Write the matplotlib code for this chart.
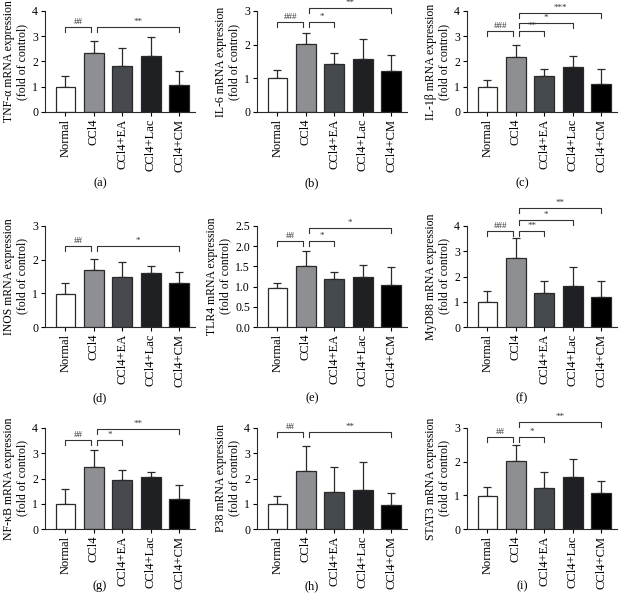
import matplotlib
matplotlib.use("Agg")
import matplotlib.pyplot as plt
import numpy as np

plt.rcParams['font.family'] = ['Liberation Serif', 'DejaVu Serif']

groups = ["Normal", "CCl4", "CCl4+EA", "CCl4+Lac", "CCl4+CM"]

# means and upper error (SD)
tnf_mean = [1.00, 2.33, 1.81, 2.23, 1.06]
tnf_sd = [0.42, 0.50, 0.72, 0.75, 0.55]
il6_mean = [1.00, 2.01, 1.43, 1.58, 1.22]
il6_sd = [0.25, 0.33, 0.33, 0.58, 0.46]
il1b_mean = [1.00, 2.16, 1.42, 1.80, 1.09]
il1b_sd = [0.25, 0.50, 0.28, 0.40, 0.61]
inos_mean = [0.98, 1.69, 1.50, 1.61, 1.30]
inos_sd = [0.32, 0.32, 0.44, 0.20, 0.33]
tlr4_mean = [0.96, 1.50, 1.19, 1.25, 1.05]
tlr4_sd = [0.14, 0.39, 0.18, 0.28, 0.44]
myd88_mean = [0.99, 2.75, 1.35, 1.62, 1.18]
myd88_sd = [0.42, 0.78, 0.47, 0.75, 0.66]
nfkb_mean = [1.00, 2.46, 1.93, 2.07, 1.18]
nfkb_sd = [0.58, 0.66, 0.40, 0.18, 0.58]
p38_mean = [1.00, 2.29, 1.46, 1.53, 0.96]
p38_sd = [0.30, 0.99, 0.99, 1.12, 0.45]
stat3_mean = [0.99, 2.03, 1.23, 1.53, 1.08]
stat3_sd = [0.27, 0.47, 0.47, 0.54, 0.36]

ylabels = ["TNF-α mRNA expression", "IL-6 mRNA expression", "IL-1β mRNA expression",
           "INOS mRNA expression", "TLR4 mRNA expression", "MyD88 mRNA expression",
           "NF-κB mRNA expression", "P38 mRNA expression", "STAT3 mRNA expression"]
letters = ["(a)", "(b)", "(c)", "(d)", "(e)", "(f)", "(g)", "(h)", "(i)"]
ymaxes = [4, 3, 4, 3, 2.5, 4, 4, 4, 3]

# brackets: (from, to, height, label)
sig_a = [(0, 1, 3.38, "##"), (1, 4, 3.38, "**")]
sig_b = [(0, 1, 2.67, "###"), (1, 2, 2.67, "*"), (1, 4, 3.10, "**")]
sig_c = [(0, 1, 3.21, "###"), (1, 2, 3.21, "**"), (1, 3, 3.51, "*"), (1, 4, 3.91, "***")]
sig_d = [(0, 1, 2.40, "##"), (1, 4, 2.40, "*")]
sig_e = [(0, 1, 2.13, "##"), (1, 2, 2.13, "*"), (1, 4, 2.46, "*")]
sig_f = [(0, 1, 3.80, "###"), (1, 2, 3.80, "**"), (1, 3, 4.25, "*"), (1, 4, 4.72, "**")]
sig_g = [(0, 1, 3.51, "##"), (1, 2, 3.51, "*"), (1, 4, 3.97, "**")]
sig_h = [(0, 1, 3.83, "##"), (1, 4, 3.83, "**")]
sig_i = [(0, 1, 2.74, "##"), (1, 2, 2.74, "*"), (1, 4, 3.17, "**")]

means = [tnf_mean, il6_mean, il1b_mean, inos_mean, tlr4_mean, myd88_mean, nfkb_mean, p38_mean, stat3_mean]
sds = [tnf_sd, il6_sd, il1b_sd, inos_sd, tlr4_sd, myd88_sd, nfkb_sd, p38_sd, stat3_sd]
sigs = [sig_a, sig_b, sig_c, sig_d, sig_e, sig_f, sig_g, sig_h, sig_i]

colors = ["#ffffff", "#8e8f93", "#46494d", "#1f2023", "#000000"]
W, H = 624, 605
col_left = [45, 257, 467]
row_top = [11, 226, 428]
ax_w, ax_h = 150, 101
letter_y = [183, 398, 586]

fig = plt.figure(figsize=(W / 100, H / 100), dpi=100)

for k in range(9):
    r, c = k // 3, k % 3
    ax = fig.add_axes([col_left[c] / W, 1 - (row_top[r] + ax_h) / H, ax_w / W, ax_h / H])
    x = np.arange(5)
    ax.bar(x, means[k], width=0.7, color=colors, edgecolor="#2a2a2a", linewidth=0.9, zorder=2)
    ax.errorbar(x, means[k], yerr=[np.zeros(5), sds[k]], fmt="none", ecolor="#2a2a2a",
                elinewidth=0.9, capsize=3, capthick=0.9, zorder=1)
    ym = ymaxes[k]
    ax.set_xlim(-0.72, 4.55)
    ax.set_ylim(0, ym)
    if ym == 2.5:
        ax.set_yticks(np.arange(0, 2.51, 0.5))
        ax.set_yticklabels(["%.1f" % v for v in np.arange(0, 2.51, 0.5)])
    else:
        ax.set_yticks(np.arange(0, ym + 0.1, 1))
    ax.set_xticks(x)
    ax.set_xticklabels(groups, rotation=90, fontsize=9)
    ax.tick_params(axis="y", labelsize=8.5, length=3, width=0.8, pad=2)
    ax.tick_params(axis="x", length=3, width=0.8, pad=2)
    for s in ["top", "right"]:
        ax.spines[s].set_visible(False)
    for s in ["left", "bottom"]:
        ax.spines[s].set_linewidth(0.8)
        ax.spines[s].set_color("#2a2a2a")
    ax.set_ylabel(ylabels[k] + "\n(fold of control)", fontsize=8.5)
    ax.yaxis.set_label_coords(-0.17 if ym == 2.5 else -0.11, 0.5)

    drop = 0.05 * ym
    for (i, j, yl, txt) in sigs[k]:
        xi = i if i == 0 else i + 0.1
        xj = j - 0.1 if j == 1 else j
        ax.plot([xi, xi, xj, xj], [yl - drop, yl, yl, yl - drop], color="#333333",
                lw=0.8, clip_on=False)
        ax.text((xi + xj) / 2, yl + 0.01 * ym, txt, ha="center", va="bottom",
                fontsize=6.5, color="#333333", clip_on=False)

    fig.text((col_left[c] + 55) / W, 1 - letter_y[r] / H, letters[k], ha="center",
             va="center", fontsize=9)

fig.savefig("out.png", dpi=100)
